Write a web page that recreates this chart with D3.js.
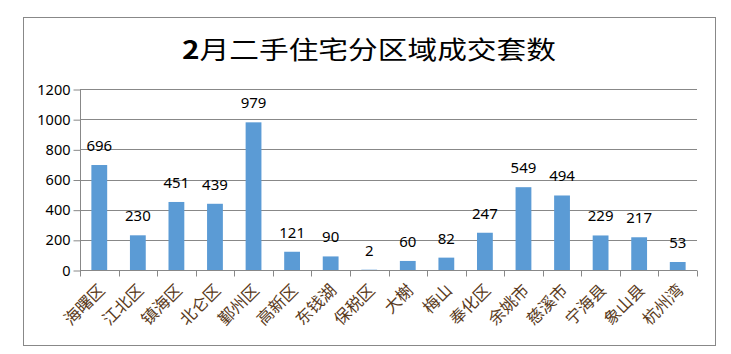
<!DOCTYPE html>
<html>
<head>
<meta charset="utf-8">
<script src="https://cdn.jsdelivr.net/npm/d3@7"></script>
<style>
  body { margin: 0; background: #fff; }
  svg { display: block; }
</style>
</head>
<body>
<div id="chart"></div>
<script>
const districts = ["海曙区", "江北区", "镇海区", "北仑区", "鄞州区", "高新区", "东钱湖", "保税区", "大榭", "梅山", "奉化区", "余姚市", "慈溪市", "宁海县", "象山县", "杭州湾"]
const sales = [696, 230, 451, 439, 979, 121, 90, 2, 60, 82, 247, 549, 494, 229, 217, 53]
const yTicks = [0, 200, 400, 600, 800, 1000, 1200]

const width = 731, height = 354
const margin = { top: 89, right: 34, bottom: 84, left: 80 }
const chartW = width - margin.left - margin.right
const chartH = height - margin.top - margin.bottom

const svg = d3.select("#chart").append("svg")
    .attr("width", width)
    .attr("height", height)

// outer frame
svg.append("rect")
    .attr("x", 23.5).attr("y", 17.5)
    .attr("width", 692).attr("height", 328)
    .attr("fill", "none")
    .attr("stroke", "#888")

svg.append("text")
    .attr("x", 369).attr("y", 59)
    .attr("text-anchor", "middle")
    .attr("textLength", 374)
    .attr("lengthAdjust", "spacingAndGlyphs")
    .style("font-family", "'Noto Sans CJK SC', sans-serif")
    .style("font-size", "25px")
    .style("font-weight", "400")
    .style("fill", "#000")
    .html('<tspan font-weight="bold">2</tspan>月二手住宅分区域成交套数')

const chart = svg.append("g").attr("transform", `translate(${margin.left},${margin.top})`)

const x = d3.scaleBand().domain(districts).range([0, chartW]).paddingInner(0.59).paddingOuter(0.295)
const y = d3.scaleLinear().domain([0, 1200]).range([chartH, 0])

// gridlines
chart.append("g")
    .selectAll("line")
    .data(yTicks.slice(1))
    .join("line")
    .attr("x1", 0).attr("x2", chartW)
    .attr("y1", d => Math.round(y(d)) + 0.5).attr("y2", d => Math.round(y(d)) + 0.5)
    .attr("stroke", "#888")

const yAxis = d3.axisLeft(y).tickValues(yTicks).tickFormat(d3.format("d")).tickSize(7).tickPadding(3)
const gy = chart.append("g").attr("transform", "translate(0.5,0.5)").call(yAxis)
gy.select(".domain").attr("stroke", "#888").attr("d", `M0,${chartH}V0`)
gy.selectAll(".tick line").attr("stroke", "#888")
gy.selectAll(".tick text")
    .style("font-family", "'Noto Sans', sans-serif")
    .style("font-size", "14.5px")
    .style("fill", "#000")

// x axis with ticks at band boundaries
const step = x.step()
const gx = chart.append("g").attr("transform", `translate(0,${chartH + 0.5})`)
gx.append("line").attr("x1", 0).attr("x2", chartW).attr("stroke", "#888")
gx.selectAll(".xtick")
    .data(d3.range(districts.length + 1))
    .join("line")
    .attr("x1", i => Math.round(i * step) + 0.5).attr("x2", i => Math.round(i * step) + 0.5)
    .attr("y1", 0).attr("y2", 6)
    .attr("stroke", "#888")

gx.selectAll(".xlabel")
    .data(districts)
    .join("text")
    .attr("transform", d => `translate(${x(d) + x.bandwidth() / 2 - 2},${12}) rotate(-45)`)
    .attr("text-anchor", "end")
    .attr("dy", "0.75em")
    .style("font-family", "'Noto Sans CJK SC', sans-serif")
    .style("font-size", "16.5px")
    .style("fill", "#5a3b1c")
    .text(d => d)

// bars
chart.append("g")
    .selectAll("rect")
    .data(districts)
    .join("rect")
    .attr("x", (d, i) => x(d))
    .attr("y", (d, i) => y(sales[i]))
    .attr("width", x.bandwidth())
    .attr("height", (d, i) => chartH - y(sales[i]))
    .attr("fill", "#5b9bd5")

// value labels
chart.append("g")
    .selectAll("text")
    .data(districts)
    .join("text")
    .attr("x", d => x(d) + x.bandwidth() / 2)
    .attr("y", (d, i) => y(sales[i]) - 14)
    .attr("text-anchor", "middle")
    .style("font-family", "'Noto Sans', sans-serif")
    .style("font-size", "15px")
    .style("fill", "#000")
    .text((d, i) => sales[i])
</script>
</body>
</html>
